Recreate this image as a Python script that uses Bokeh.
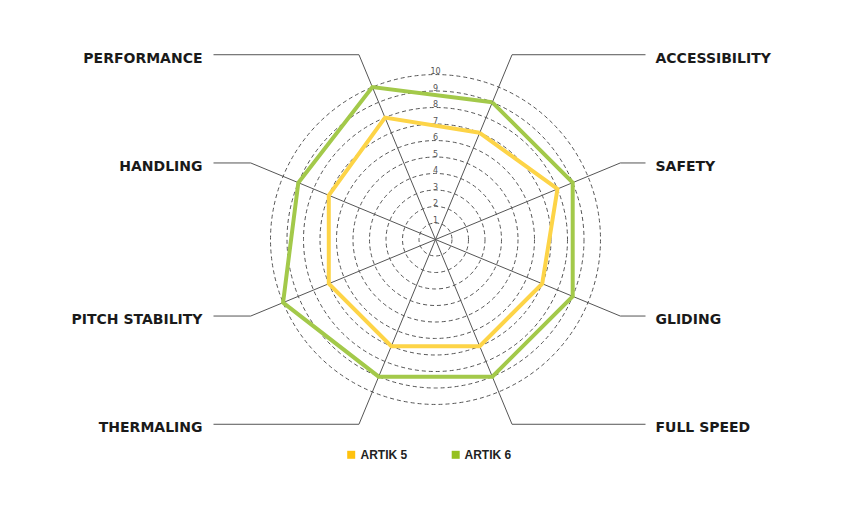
import math
from bokeh.plotting import figure
from bokeh.models import Range1d
from bokeh.core.properties import value
from bokeh.embed import file_html
from bokeh.resources import INLINE

# ---- data ----
categories = ["ACCESSIBILITY", "SAFETY", "GLIDING", "FULL SPEED",
              "THERMALING", "PITCH STABILITY", "HANDLING", "PERFORMANCE"]
artik5 = [7, 8, 7, 7, 7, 7, 7, 8]
artik6 = [9, 9, 9, 9, 9, 10, 9, 10]
ring_values = [1, 2, 3, 4, 5, 6, 7, 8, 9, 10]
ring_labels = ["1", "2", "3", "4", "5", "6", "7", "8", "9", "10"]
series_names = ["ARTIK 5", "ARTIK 6"]

# ---- layout (pixel -> data helpers) ----
CX, CY, PX = 435.0, 239.0, 16.5
W, H = 842, 495
OFF = 0  # canvas origin on the page

def sx(px):
    return (px - CX) / PX

def sy(py):
    return (CY - py) / PX

p = figure(width=W, height=H, output_backend="svg", toolbar_location=None,
           x_range=Range1d(sx(OFF), sx(OFF + W)), y_range=Range1d(sy(OFF + H), sy(OFF)),
           min_border=0, outline_line_color=None)
p.axis.visible = False
p.grid.visible = False
p.background_fill_color = "white"
p.border_fill_color = "white"

n = len(categories)
angles = [math.radians(22.5 + 45 * i) for i in range(n)]  # clockwise from top

def pt(r, a):
    return r * math.sin(a), r * math.cos(a)

# rings
p.circle(x=[0] * len(ring_values), y=[0] * len(ring_values), radius=ring_values,
         fill_color=None, line_color="#555555", line_width=1, line_dash="4 3")

# axes with leader lines
axis_len = 200 / PX
left_x, right_x = sx(213), sx(645)
xs, ys = [], []
for a in angles:
    ex, ey = pt(axis_len, a)
    hx = right_x if ex > 0 else left_x
    xs.append([0, ex, hx])
    ys.append([0, ey, ey])
p.multi_line(xs=xs, ys=ys, line_color="#555555", line_width=1)

# ring labels
p.text(x=[0] * len(ring_values), y=[r + 0.22 for r in ring_values], text=ring_labels,
       text_align="center", text_baseline="middle", text_font=value("DejaVu Sans"),
       text_font_size="8px", text_color="#555555")

# series
colors_line = ["#FDD447", "#A3C94A"]
for vals, col in zip([artik5, artik6], colors_line):
    px_ = [pt(v, a)[0] for v, a in zip(vals, angles)]
    py_ = [pt(v, a)[1] for v, a in zip(vals, angles)]
    p.line(x=px_ + [px_[0]], y=py_ + [py_[0]], line_color=col, line_width=4,
           line_join="miter")

# category labels
lx, ly, la = [], [], []
for c, a in zip(categories, angles):
    ex, ey = pt(axis_len, a)
    if ex > 0:
        lx.append(sx(655)); la.append("left")
    else:
        lx.append(sx(202)); la.append("right")
    ly.append(ey - 0.18)
p.text(x=lx, y=ly, text=categories, text_align=la, text_baseline="middle",
       text_font=value("DejaVu Sans"), text_font_style="bold",
       text_font_size="14px", text_color="#1a1a1a")

# legend
leg_colors = ["#FFC20E", "#95C11F"]
leg_sq_x = [sx(350.7), sx(455.2)]
leg_y = sy(454.3)
p.scatter(x=leg_sq_x, y=[leg_y, leg_y], marker="square", size=8,
          fill_color=leg_colors, line_color=None)
p.text(x=[sx(360), sx(464)], y=[leg_y, leg_y], text=series_names,
       text_align="left", text_baseline="middle", text_font=value("Liberation Sans"),
       text_font_style="bold", text_font_size="12px", text_color="#222222")

open("out.html", "w").write(file_html(p, INLINE))
